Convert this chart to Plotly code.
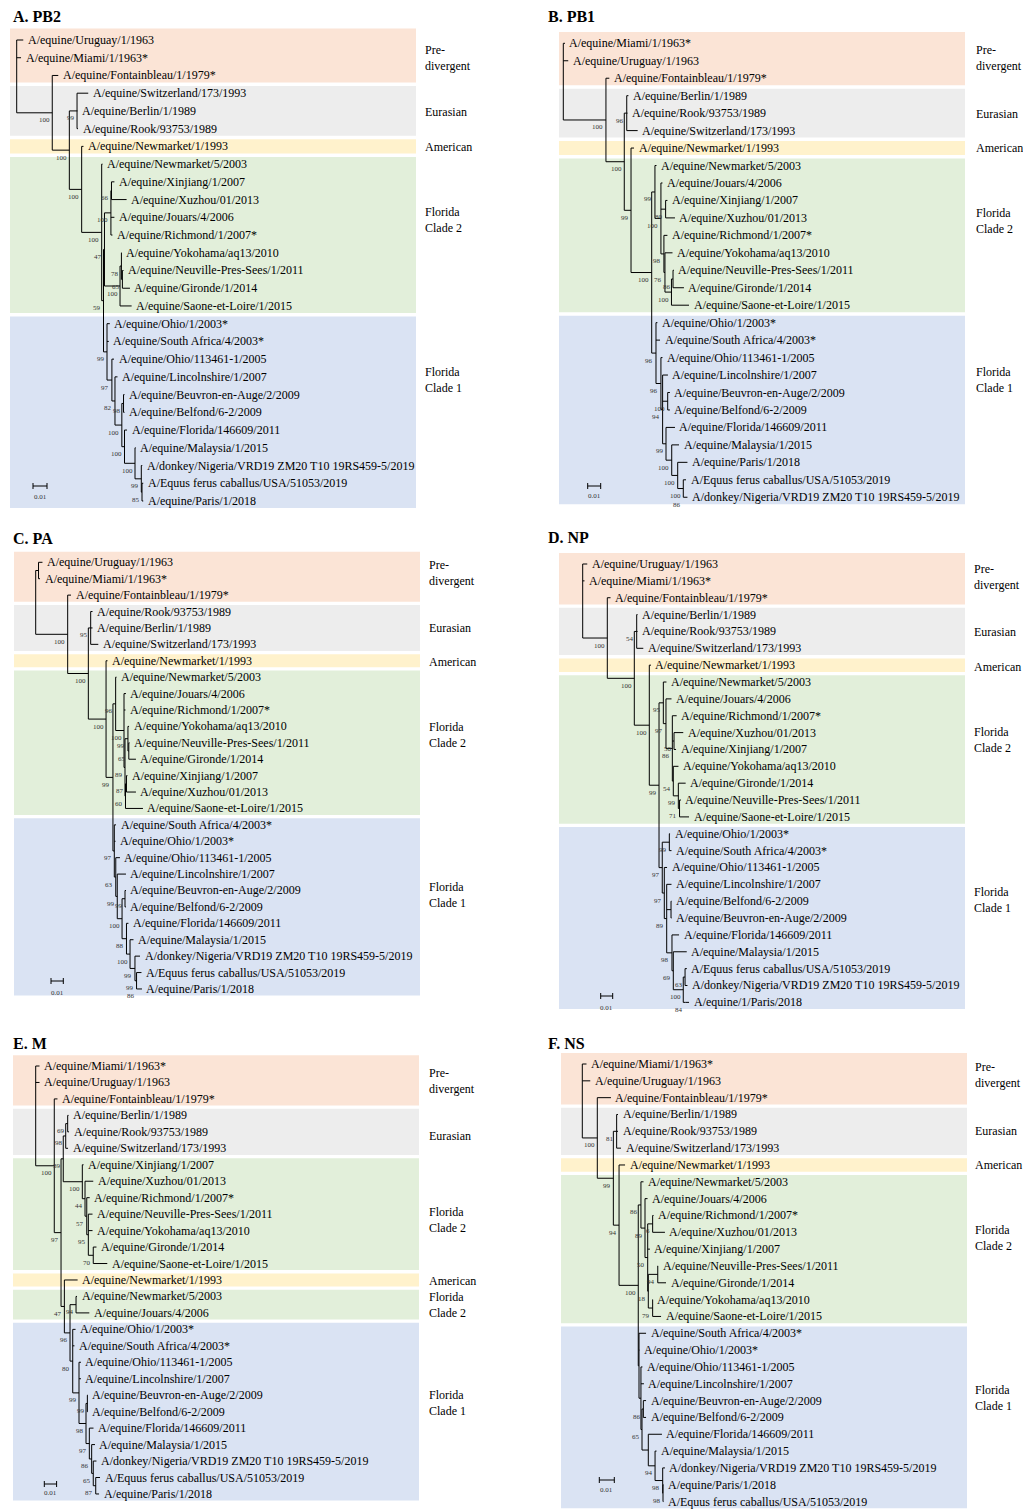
import plotly.graph_objects as go

W, H = 1023, 1509
FONT = "Liberation Serif, Times New Roman, serif"

# ---------------------------------------------------------------------------
# Trees: Newick-like strings. Number after ':' = node depth from the root,
# in units of 0.001 substitutions/site; number after ')' = bootstrap value.
# ---------------------------------------------------------------------------
TREE_A = ("(A/equine/Uruguay/1/1963:4.7,A/equine/Miami/1/1963*:3.1,"
          "(A/equine/Fontainbleau/1/1979*:29.7,"
          "((A/equine/Switzerland/173/1993:51.1,A/equine/Berlin/1/1989:43.4,A/equine/Rook/93753/1989:43.8)99:43.1,"
          "(A/equine/Newmarket/1/1993:47.7,"
          "(A/equine/Newmarket/5/2003:61.3,"
          "((((A/equine/Xinjiang/1/2007:69.8,A/equine/Xuzhou/01/2013:78.5)66:67.7,A/equine/Jouars/4/2006:69.8,A/equine/Richmond/1/2007*:68.4)100:67.3,"
          "((A/equine/Yokohama/aq13/2010:75,(A/equine/Neuville-Pres-Sees/1/2011:76.3,A/equine/Gironde/1/2014:80.9)65:75.5)78:74.8,"
          "A/equine/Saone-et-Loire/1/2015:82.1)100:73.8)47:62.7,"
          "(A/equine/Ohio/1/2003*:66.5,A/equine/South Africa/4/2003*:65.8,"
          "(A/equine/Ohio/113461-1/2005:69.5,(A/equine/Lincolnshire/1/2007:72,"
          "((A/equine/Beuvron-en-Auge/2/2009:77,A/equine/Belfond/6-2/2009:77)98:76.3,"
          "(A/equine/Florida/146609/2011:78.8,(A/equine/Malaysia/1/2015:85,"
          "(A/donkey/Nigeria/VRD19 ZM20 T10 19RS459-5/2019:89.7,"
          "(A/Equus ferus caballus/USA/51053/2019:90.4,A/equine/Paris/1/2018:90.4)85:89.5)99:89)100:84.5)100:77)100:75.1)82:70.2)97:68)99:64.5)59:62)100:60.7)100:46.4)100:37.6)100:25.4):0")

TREE_B = ("(A/equine/Miami/1/1963*:1.3,A/equine/Uruguay/1/1963:3.8,"
          "(A/equine/Fontainbleau/1/1979*:35.4,"
          "((A/equine/Berlin/1/1989:50.1,A/equine/Rook/93753/1989:49.4,A/equine/Switzerland/173/1993:57.2)96:48.8,"
          "(A/equine/Newmarket/1/1993:54.4,"
          "((A/equine/Newmarket/5/2003:71.7,(A/equine/Jouars/4/2006:76.3,"
          "(A/equine/Xinjiang/1/2007:80.1,A/equine/Xuzhou/01/2013:85.9)80:78.7,"
          "(A/equine/Richmond/1/2007*:80.1,(A/equine/Yokohama/aq13/2010:84,"
          "((A/equine/Neuville-Pres-Sees/1/2011:85.1,A/equine/Gironde/1/2014:92.8)86:84.4,"
          "A/equine/Saone-et-Loire/1/2015:96.7)100:83.2)76:78.2)98:77.4)100:75.1)99:70.5,"
          "(A/equine/Ohio/1/2003*:72.4,A/equine/South Africa/4/2003*:74.4,"
          "(A/equine/Ohio/113461-1/2005:76.3,(A/equine/Lincolnshire/1/2007:80.5,"
          "(A/equine/Beuvron-en-Auge/2/2009:82,A/equine/Belfond/6-2/2009:82)100:80.3,"
          "(A/equine/Florida/146609/2011:85.9,(A/equine/Malaysia/1/2015:89,"
          "(A/equine/Paris/1/2018:95.5,(A/Equus ferus caballus/USA/51053/2019:94.4,"
          "(A/donkey/Nigeria/VRD19 ZM20 T10 19RS459-5/2019:95.5)86:92.8)100:92.3)100:88)100:83.4)99:79)94:76.4)96:75.1)96:71.3)100:68)99:52.1)100:46.9)100:32.8):0")

TREE_C = ("((A/equine/Uruguay/1/1963:5.5,A/equine/Miami/1/1963*:3.5):2.3,"
          "(A/equine/Fontainbleau/1/1979*:28.7,"
          "((A/equine/Rook/93753/1989:46.2,A/equine/Berlin/1/1989:46.2,A/equine/Switzerland/173/1993:50.9)95:44.7,"
          "(A/equine/Newmarket/1/1993:58.4,"
          "((A/equine/Newmarket/5/2003:65.7,(A/equine/Jouars/4/2006:73.4,A/equine/Richmond/1/2007*:73,"
          "((A/equine/Yokohama/aq13/2010:75.9,(A/equine/Neuville-Pres-Sees/1/2011:76.3,A/equine/Gironde/1/2014:81.5)65:75.7)99:75,"
          "((A/equine/Xinjiang/1/2007:74.6,A/equine/Xuzhou/01/2013:81.5)87:73.8,"
          "A/equine/Saone-et-Loire/1/2015:87.2)60:73)89:72.6)100:71.8)96:65,"
          "(A/equine/South Africa/4/2003*:65.3,A/equine/Ohio/1/2003*:64.9,"
          "(A/equine/Ohio/113461-1/2005:68.5,(A/equine/Lincolnshire/1/2007:73.4,"
          "((A/equine/Beuvron-en-Auge/2/2009:73.4,A/equine/Belfond/6-2/2009:73.4)99:72.6,"
          "(A/equine/Florida/146609/2011:75.4,(A/equine/Malaysia/1/2015:79.5,"
          "(A/donkey/Nigeria/VRD19 ZM20 T10 19RS459-5/2019:84.8,"
          "(A/Equus ferus caballus/USA/51053/2019:86,(A/equine/Paris/1/2018:86.4)86:82.4)99:82)99:80.7)100:76.7)88:73.8)100:70.2)99:66.3)63:65.1)97:63.9)99:62.8)100:57.2)100:42.8)100:26):0")

TREE_D = ("(A/equine/Uruguay/1/1963:3.8,A/equine/Miami/1/1963*:1.5,"
          "(A/equine/Fontainbleau/1/1979*:23.2,"
          "((A/equine/Berlin/1/1989:45.7,A/equine/Rook/93753/1989:45.7,A/equine/Switzerland/173/1993:50.5)54:45,"
          "(A/equine/Newmarket/1/1993:56.9,"
          "((A/equine/Newmarket/5/2003:69.8,(A/equine/Jouars/4/2006:74,"
          "(A/equine/Richmond/1/2007*:78.3,(A/equine/Xuzhou/01/2013:83.8,A/equine/Xinjiang/1/2007:77.8)50:76.1,"
          "(A/equine/Yokohama/aq13/2010:79.8,(A/equine/Gironde/1/2014:85.8,"
          "(A/equine/Neuville-Pres-Sees/1/2011:81.9,A/equine/Saone-et-Loire/1/2015:88.6)71:80.7)99:79.7)54:75.5)86:74.7)97:69.4)95:67.2,"
          "((A/equine/Ohio/1/2003*:72.8,A/equine/South Africa/4/2003*:74)99:72.2,"
          "(A/equine/Ohio/113461-1/2005:70.3,(A/equine/Lincolnshire/1/2007:74,"
          "(A/equine/Belfond/6-2/2009:74,A/equine/Beuvron-en-Auge/2/2009:74):73.6,"
          "(A/equine/Florida/146609/2011:80.3,(A/equine/Malaysia/1/2015:86.7,"
          "((A/Equus ferus caballus/USA/51053/2019:86.8,A/donkey/Nigeria/VRD19 ZM20 T10 19RS459-5/2019:87.3)63:85.3,"
          "(A/equine/1/Paris/2018:88.6)84:85.7)100:83.8)69:75.5)98:74.4)89:70)97:68)97:66.3)99:63.6)100:55.5)100:43)100:20.5):0")

TREE_E = ("(A/equine/Miami/1/1963*:3.1,A/equine/Uruguay/1/1963:3.1,"
          "(A/equine/Fontainbleau/1/1979*:17.7,"
          "((((A/equine/Berlin/1/1989:26.7,A/equine/Rook/93753/1989:27.1)69:26,A/equine/Switzerland/173/1993:26.3)98:24.4,"
          "(A/equine/Xinjiang/1/2007:38.9,(A/equine/Xuzhou/01/2013:46.8,(A/equine/Richmond/1/2007*:43.9,"
          "(A/equine/Neuville-Pres-Sees/1/2011:46.2,A/equine/Yokohama/aq13/2010:46.2,"
          "(A/equine/Gironde/1/2014:49.4,A/equine/Saone-et-Loire/1/2015:58.2)70:46.8)95:42.8)57:41.5)44:40.1)100:37.9)39:22.4,"
          "(A/equine/Newmarket/1/1993:34.1,"
          "((A/equine/Newmarket/5/2003:33.6,A/equine/Jouars/4/2006:43.6)94:32.8,"
          "(A/equine/Ohio/1/2003*:32.4,A/equine/South Africa/4/2003*:31.5,"
          "(A/equine/Ohio/113461-1/2005:36.8,A/equine/Lincolnshire/1/2007:36.8,"
          "((A/equine/Beuvron-en-Auge/2/2009:42.5,A/equine/Belfond/6-2/2009:42.5)99:42,"
          "(A/equine/Florida/146609/2011:47,(A/equine/Malaysia/1/2015:48.2,"
          "(A/donkey/Nigeria/VRD19 ZM20 T10 19RS459-5/2019:49.4,"
          "(A/Equus ferus caballus/USA/51053/2019:52.3,A/equine/Paris/1/2018:51.5)87:48.8)65:46.8)86:45.5)97:43.6)98:40.9)99:35.2)80:30.1)96:27.9)47:23.3)97:20.6)100:15.1):0")

TREE_F = ("(A/equine/Miami/1/1963*:2.8,A/equine/Uruguay/1/1963:5.3,"
          "(A/equine/Fontainbleau/1/1979*:19.1,"
          "((A/equine/Berlin/1/1989:23.8,A/equine/Rook/93753/1989:23.8,A/equine/Switzerland/173/1993:25.8)81:22.9,"
          "(A/equine/Newmarket/1/1993:28.5,"
          "((A/equine/Newmarket/5/2003:40.8,(A/equine/Jouars/4/2006:43.5,"
          "((A/equine/Richmond/1/2007*:47.5,A/equine/Xuzhou/01/2013:55.1)6:46.9,A/equine/Xinjiang/1/2007:45.1,"
          "((A/equine/Neuville-Pres-Sees/1/2011:50.5,A/equine/Gironde/1/2014:55.8)94:50.3,"
          "(A/equine/Yokohama/aq13/2010:47.1,A/equine/Saone-et-Loire/1/2015:52.5)79:46.9)18:44)50:43.6)89:41.8)86:39.1,"
          "(A/equine/South Africa/4/2003*:42.5,A/equine/Ohio/1/2003*:38.1,"
          "(A/equine/Ohio/113461-1/2005:40.1,A/equine/Lincolnshire/1/2007:41.1,"
          "((A/equine/Beuvron-en-Auge/2/2009:42.5,A/equine/Belfond/6-2/2009:42.5)86:40.7,"
          "(A/equine/Florida/146609/2011:53.1,(A/equine/Malaysia/1/2015:49.5,"
          "(A/donkey/Nigeria/VRD19 ZM20 T10 19RS459-5/2019:55.1,"
          "(A/equine/Paris/1/2018:54.1,A/Equus ferus caballus/USA/51053/2019:54.1)98:53.8)98:53.6)94:48.5):44)65:39.8):39.1):37.8)100:37.3)94:24.5)99:20.7)100:10):0")

TITLES = ["A. PB2", "B. PB1", "C. PA", "D. NP", "E. M", "F. NS"]

# clade bands: (clade, first tip row, last tip row)
BANDS_STD = [("Pre-divergent", 0, 2), ("Eurasian", 3, 5), ("American", 6, 6),
             ("Florida Clade 2", 7, 15), ("Florida Clade 1", 16, 26)]
BANDS_E = [("Pre-divergent", 0, 2), ("Eurasian", 3, 5), ("Florida Clade 2", 6, 12),
           ("American", 13, 13), ("Florida Clade 2", 14, 15), ("Florida Clade 1", 16, 26)]

CLADE_TEXT = {"Pre-divergent": "Pre-<br>divergent", "Eurasian": "Eurasian", "American": "American",
              "Florida Clade 2": "Florida<br>Clade 2", "Florida Clade 1": "Florida<br>Clade 1"}
CLADE_COLOR = {"Pre-divergent": "#FBE4D6", "Eurasian": "#EDEDED", "American": "#FFF2CC",
               "Florida Clade 2": "#E2EFDA", "Florida Clade 1": "#DAE3F3"}

SCALE_BAR_VALUE = 0.01
DEPTH_UNIT = 0.001

# ---------------------------------------------------------------------------
# layout of each panel (pixel geometry)
# ---------------------------------------------------------------------------
PANELS = [
    dict(tree=TREE_A, bands=BANDS_STD, px=(0, 511), py=(0, 518), root=16.7, scale=14.0, row0=40.0, dy=17.73,
         band_x=(10, 416), lab_x=422.7, lab_y=[57.8, 111.7, 146.7, 219.5, 379.5], title=(11, 16), bar=(33, 486, 497)),
    dict(tree=TREE_B, bands=BANDS_STD, px=(511, 1023), py=(0, 518), root=563.3, scale=13.0, row0=43.3, dy=17.46,
         band_x=(559, 965), lab_x=974, lab_y=[58.5, 114, 148, 220.5, 380.5], title=(546, 16), bar=(587.7, 486, 496)),
    dict(tree=TREE_C, bands=BANDS_STD, px=(0, 511), py=(518, 1024), root=35.7, scale=12.3, row0=562.3, dy=16.41,
         band_x=(14, 420), lab_x=427.3, lab_y=[572.8, 627.7, 661.7, 735.3, 895], title=(11, 538), bar=(51, 981, 992.7)),
    dict(tree=TREE_D, bands=BANDS_STD, px=(511, 1023), py=(518, 1024), root=582.7, scale=12.0, row0=564.0, dy=16.86,
         band_x=(559, 965), lab_x=971.7, lab_y=[576.8, 632.3, 667.3, 739.8, 899.8], title=(546, 537), bar=(600.7, 996, 1007.7)),
    dict(tree=TREE_E, bands=BANDS_E, px=(0, 511), py=(1024, 1509), root=35.7, scale=12.3, row0=1066.0, dy=16.46,
         band_x=(13, 419), lab_x=426.7, lab_y=[1080.8, 1136, 1220.3, 1281, 1304.5, 1403], title=(11, 1043), bar=(44.3, 1484, 1493.3)),
    dict(tree=TREE_F, bands=BANDS_STD, px=(511, 1023), py=(1024, 1509), root=582.3, scale=15.0, row0=1064.0, dy=16.83,
         band_x=(561, 967), lab_x=973.3, lab_y=[1075.3, 1131, 1165, 1238.3, 1398], title=(546, 1043), bar=(599.3, 1480, 1490)),
]


def parse_tree(s):
    pos = 0
    n = len(s)

    def skip():
        nonlocal pos
        while pos < n and s[pos] in " \n\t":
            pos += 1

    def read_until(stops):
        nonlocal pos
        j = pos
        while pos < n and s[pos] not in stops:
            pos += 1
        return s[j:pos].strip()

    def node():
        nonlocal pos
        skip()
        kids, name, label = [], None, ""
        if s[pos] == "(":
            pos += 1
            kids.append(node())
            skip()
            while s[pos] == ",":
                pos += 1
                kids.append(node())
                skip()
            pos += 1
            label = read_until(":,)")
        else:
            name = read_until(":,)")
        depth = 0.0
        skip()
        if pos < n and s[pos] == ":":
            pos += 1
            depth = float(read_until(",)"))
        return {"name": name, "kids": kids, "label": label, "depth": depth}

    return node()


def place(root):
    tips = []

    def walk(nd):
        if not nd["kids"]:
            nd["y"] = float(len(tips))
            tips.append(nd)
        else:
            for k in nd["kids"]:
                walk(k)
            nd["y"] = (nd["kids"][0]["y"] + nd["kids"][-1]["y"]) / 2.0
    walk(root)
    return tips


fig = go.Figure()
layout = dict(width=W, height=H, margin=dict(l=0, r=0, t=0, b=0),
              paper_bgcolor="white", plot_bgcolor="rgba(0,0,0,0)", showlegend=False)
shapes, annotations = [], []

for i, P in enumerate(PANELS):
    k = "" if i == 0 else str(i + 1)
    xa, ya = "x" + k, "y" + k
    ppu = P["scale"] * DEPTH_UNIT / SCALE_BAR_VALUE  # pixels per depth unit
    x0r = (P["px"][0] - P["root"]) / ppu
    x1r = (P["px"][1] - P["root"]) / ppu
    ytop = (P["py"][0] - P["row0"]) / P["dy"]
    ybot = (P["py"][1] - P["row0"]) / P["dy"]
    layout["xaxis" + k] = dict(domain=[P["px"][0] / W, P["px"][1] / W], range=[x0r, x1r],
                               visible=False, fixedrange=True, anchor=ya)
    layout["yaxis" + k] = dict(domain=[1 - P["py"][1] / H, 1 - P["py"][0] / H], range=[ybot, ytop],
                               visible=False, fixedrange=True, anchor=xa)

    root = parse_tree(P["tree"])
    tips = place(root)

    # clade background bands
    for j, (clade, r0, r1) in enumerate(P["bands"]):
        top = r0 - (0.65 if j == 0 else 0.4)
        shapes.append(dict(type="rect", xref="paper", yref=ya,
                           x0=P["band_x"][0] / W, x1=P["band_x"][1] / W,
                           y0=top, y1=r1 + 0.4, fillcolor=CLADE_COLOR[clade],
                           line=dict(width=0), layer="below"))
        annotations.append(dict(xref="paper", yref="paper", x=P["lab_x"] / W,
                                y=1 - P["lab_y"][j] / H, text=CLADE_TEXT[clade], showarrow=False,
                                xanchor="left", yanchor="middle", align="left",
                                font=dict(family=FONT, size=12, color="black")))

    # tree branches
    xs, ys, inner = [], [], []

    def seg(nd):
        if nd["kids"]:
            xs.extend([nd["depth"], nd["depth"], None])
            ys.extend([nd["kids"][0]["y"], nd["kids"][-1]["y"], None])
            for c in nd["kids"]:
                xs.extend([nd["depth"], c["depth"], None])
                ys.extend([c["y"], c["y"], None])
                seg(c)
            inner.append(nd)
    seg(root)
    fig.add_trace(go.Scatter(x=xs, y=ys, mode="lines", xaxis=xa, yaxis=ya,
                             line=dict(color="black", width=1), hoverinfo="skip"))

    for t in tips:
        annotations.append(dict(xref=xa, yref=ya, x=t["depth"], y=t["y"], text=t["name"],
                                showarrow=False, xanchor="left", yanchor="middle", xshift=2.5,
                                font=dict(family=FONT, size=12, color="black")))
    for nd in inner:
        if nd["label"]:
            annotations.append(dict(xref=xa, yref=ya, x=nd["depth"], y=nd["y"], text=nd["label"],
                                    showarrow=False, xanchor="right", yanchor="top",
                                    xshift=-0.5, yshift=-1.5,
                                    font=dict(family=FONT, size=7, color="#333333")))

    # scale bar
    bx0 = (P["bar"][0] - P["root"]) / ppu
    bx1 = bx0 + SCALE_BAR_VALUE / DEPTH_UNIT
    by = (P["bar"][1] - P["row0"]) / P["dy"]
    tk = 3.0 / P["dy"]
    fig.add_trace(go.Scatter(x=[bx0, bx1, None, bx0, bx0, None, bx1, bx1],
                             y=[by, by, None, by - tk, by + tk, None, by - tk, by + tk],
                             mode="lines", xaxis=xa, yaxis=ya,
                             line=dict(color="black", width=1), hoverinfo="skip"))
    annotations.append(dict(xref=xa, yref=ya, x=(bx0 + bx1) / 2,
                            y=(P["bar"][2] - P["row0"]) / P["dy"], text="0.01", showarrow=False,
                            xanchor="center", yanchor="middle",
                            font=dict(family=FONT, size=7, color="#333333")))

    # panel title
    annotations.append(dict(xref="paper", yref="paper", x=P["title"][0] / W, y=1 - P["title"][1] / H,
                            text="<b>" + TITLES[i] + "</b>", showarrow=False,
                            xanchor="left", yanchor="middle",
                            font=dict(family=FONT, size=16, color="black")))

layout["shapes"] = shapes
layout["annotations"] = annotations
fig.update_layout(**layout)
fig.write_html("out.html", config={"displayModeBar": False, "staticPlot": True},
               post_script="document.body.style.margin='0';document.body.style.padding='0';")
